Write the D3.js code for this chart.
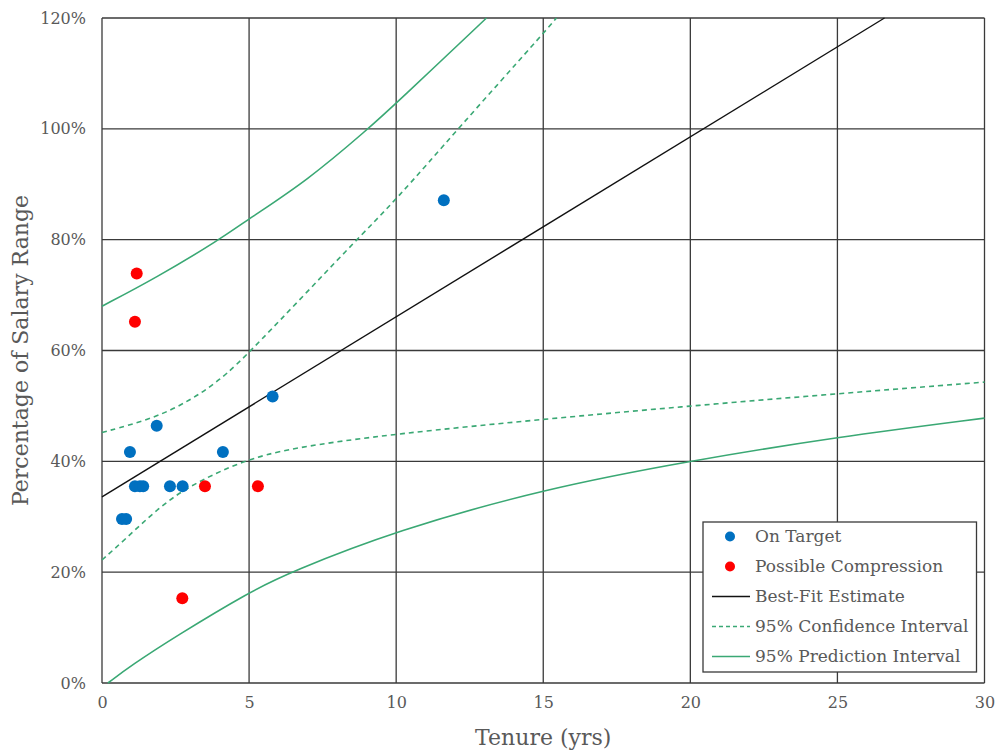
<!DOCTYPE html>
<html>
<head>
<meta charset="utf-8">
<script src="https://cdn.jsdelivr.net/npm/d3@7"></script>
<style>
  body { margin: 0; background: #fff; }
  text { font-family: "DejaVu Serif", serif; fill: #595959; }
</style>
</head>
<body>
<div id="chart"></div>
<script>
// tenure (yrs), percentage of salary range
var onTarget = [
  [0.68, 29.6], [0.82, 29.6], [0.95, 41.7], [1.12, 35.5], [1.29, 35.5],
  [1.40, 35.5], [1.86, 46.4], [2.31, 35.5], [2.74, 35.5], [4.11, 41.7],
  [5.80, 51.7], [11.62, 87.1]
]
var compression = [
  [1.18, 73.9], [1.12, 65.2], [2.73, 15.3], [3.50, 35.5], [5.30, 35.5]
]
var bestFit = [[0, 33.6], [26.6, 120]]
var confUpper = [
  [0, 45.2], [1.8, 47.8], [3, 51], [4, 54.6], [5, 59.5],
  [8.65, 80], [10, 87.2], [12.1, 100], [15, 117.2], [15.45, 120]
]
var confLower = [
  [0, 22.2], [0.8, 26], [1.6, 30], [2.42, 33.6], [3.33, 36.5], [4.75, 40],
  [6.36, 42.4], [10, 45], [15, 47.6], [20, 50], [25, 52.2], [30, 54.3]
]
var predUpper = [
  [0, 68], [1.8, 73], [4, 80], [5, 83.8], [6.96, 90.6],
  [9.05, 100], [10, 104.6], [13.07, 120]
]
var predLower = [
  [0.2, 0], [1, 3.2], [2.5, 8.4], [5, 16.4], [6.4, 20], [10, 27.5],
  [15, 35], [20, 40.1], [25, 44.4], [30, 47.8]
]
var xTicks = [0, 5, 10, 15, 20, 25, 30]
var yTicks = [0, 20, 40, 60, 80, 100, 120]
var legendItems = ['On Target', 'Possible Compression', 'Best-Fit Estimate',
  '95% Confidence Interval', '95% Prediction Interval']

var blue = '#0070c0', red = '#ff0000', green = '#3aa874', grid = '#3a3a3a'

var margin = {left: 102, top: 18}
var width = 882.5, height = 665

var svg = d3.select('#chart').append('svg')
  .attr('width', 1000).attr('height', 753)
var g = svg.append('g').attr('transform', 'translate(' + margin.left + ',' + margin.top + ')')

var x = d3.scaleLinear().domain([0, 30]).range([0, width])
var y = d3.scaleLinear().domain([0, 120]).range([height, 0])

// grid
g.append('g').selectAll('line').data(xTicks).enter().append('line')
  .attr('x1', x).attr('x2', x).attr('y1', 0).attr('y2', height)
  .attr('stroke', grid).attr('stroke-width', 1.3)
g.append('g').selectAll('line').data(yTicks).enter().append('line')
  .attr('y1', y).attr('y2', y).attr('x1', 0).attr('x2', width)
  .attr('stroke', grid).attr('stroke-width', 1.3)

// axes (labels only, grid acts as ticks)
var xAxis = d3.axisBottom(x).tickValues(xTicks).tickSize(0).tickPadding(14)
var yAxis = d3.axisLeft(y).tickValues(yTicks).tickSize(0).tickPadding(16)
  .tickFormat(function(d){ return d + '%' })

var xg = g.append('g').attr('transform', 'translate(0,' + height + ')').call(xAxis)
var yg = g.append('g').call(yAxis)
;[xg, yg].forEach(function(a){
  a.select('.domain').remove()
  a.selectAll('text').attr('font-size', 16).attr('fill', '#595959')
    .attr('font-family', '"DejaVu Serif", serif')
})

var line = d3.line().x(function(d){ return x(d[0]) }).y(function(d){ return y(d[1]) })
var curve = d3.line().curve(d3.curveBasis)
  .x(function(d){ return x(d[0]) }).y(function(d){ return y(d[1]) })

g.append('path').attr('d', line(bestFit))
  .attr('fill', 'none').attr('stroke', '#111').attr('stroke-width', 1.4)

;[confUpper, confLower].forEach(function(s){
  g.append('path').attr('d', curve(s))
    .attr('fill', 'none').attr('stroke', green).attr('stroke-width', 1.6)
    .attr('stroke-dasharray', '5,4')
})
;[predUpper, predLower].forEach(function(s){
  g.append('path').attr('d', curve(s))
    .attr('fill', 'none').attr('stroke', green).attr('stroke-width', 1.6)
})

g.append('g').selectAll('circle').data(onTarget).enter().append('circle')
  .attr('cx', function(d){ return x(d[0]) }).attr('cy', function(d){ return y(d[1]) })
  .attr('r', 6).attr('fill', blue)
g.append('g').selectAll('circle').data(compression).enter().append('circle')
  .attr('cx', function(d){ return x(d[0]) }).attr('cy', function(d){ return y(d[1]) })
  .attr('r', 6).attr('fill', red)

// axis titles
svg.append('text').attr('x', margin.left + width / 2).attr('y', 745)
  .attr('text-anchor', 'middle').attr('font-size', 22).text('Tenure (yrs)')
svg.append('text')
  .attr('transform', 'translate(28,' + (margin.top + height / 2) + ') rotate(-90)')
  .attr('text-anchor', 'middle').attr('font-size', 22).text('Percentage of Salary Range')

// legend
var lg = svg.append('g').attr('transform', 'translate(703,522)')
lg.append('rect').attr('width', 273.5).attr('height', 150)
  .attr('fill', '#fff').attr('stroke', grid).attr('stroke-width', 1.3)
var rows = lg.selectAll('g.row').data(legendItems).enter().append('g')
  .attr('transform', function(d, i){ return 'translate(0,' + (14.5 + i * 30) + ')' })
rows.append('text').attr('x', 52).attr('dy', '0.35em').attr('font-size', 17)
  .text(function(d){ return d })
rows.filter(function(d, i){ return i < 2 }).append('circle')
  .attr('cx', 27).attr('r', 5).attr('fill', function(d, i){ return i == 0 ? blue : red })
rows.filter(function(d, i){ return i >= 2 }).append('line')
  .attr('x1', 9).attr('x2', 47)
  .attr('stroke', function(d, i){ return i == 0 ? '#111' : green })
  .attr('stroke-width', 1.6)
  .attr('stroke-dasharray', function(d, i){ return i == 1 ? '4,3' : null })
</script>
</body>
</html>
